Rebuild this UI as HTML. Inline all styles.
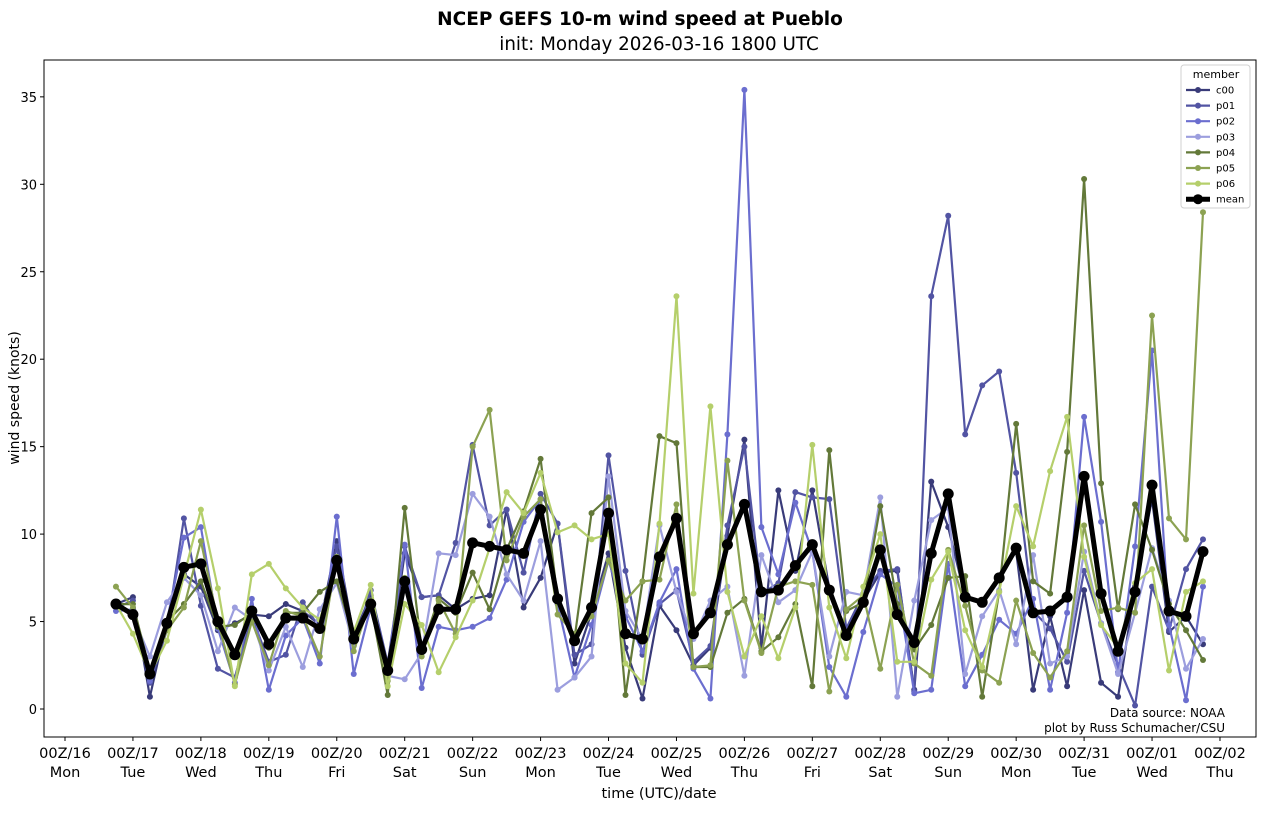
<!DOCTYPE html>
<html><head><meta charset="utf-8"><style>
body{margin:0;background:#fff;font-family:"Liberation Sans","DejaVu Sans",sans-serif;}
svg text{font-family:"DejaVu Sans","Liberation Sans",sans-serif;}
</style></head><body>
<svg id="chart" width="1266" height="812" xmlns="http://www.w3.org/2000/svg">
<text x="640" y="25" text-anchor="middle" font-size="18.5" font-weight="bold">NCEP GEFS 10-m wind speed at Pueblo</text>
<text x="659" y="50" text-anchor="middle" font-size="18.3">init: Monday 2026-03-16 1800 UTC</text>
<rect x="44" y="60" width="1212" height="677" fill="none" stroke="#000" stroke-width="1"/>
<text transform="translate(19,398) rotate(-90)" text-anchor="middle" font-size="14">wind speed (knots)</text>
<text x="659" y="798" text-anchor="middle" font-size="14.5">time (UTC)/date</text>
<text x="1225" y="717" text-anchor="end" font-size="12">Data source: NOAA</text>
<text x="1225" y="732" text-anchor="end" font-size="12">plot by Russ Schumacher/CSU</text>
<g id="grid"></g><g id="series"></g><g id="legend"></g>
</svg>
<script>
const xTickLabels=["00Z/16","00Z/17","00Z/18","00Z/19","00Z/20","00Z/21","00Z/22","00Z/23","00Z/24","00Z/25","00Z/26","00Z/27","00Z/28","00Z/29","00Z/30","00Z/31","00Z/01","00Z/02"];
const dayLabels=["Mon","Tue","Wed","Thu","Fri","Sat","Sun","Mon","Tue","Wed","Thu","Fri","Sat","Sun","Mon","Tue","Wed","Thu"];
const yTicks=[0,5,10,15,20,25,30,35];
const memberNames=["c00","p01","p02","p03","p04","p05","p06","mean"];
const c00=[6.0,6.4,0.7,5.0,7.7,7.0,4.5,4.9,5.4,5.3,6.0,5.6,4.8,9.6,4.2,6.5,2.0,8.9,6.4,6.5,5.7,6.3,6.5,11.4,5.8,7.5,10.6,2.6,5.5,8.9,3.5,0.6,5.9,4.5,2.5,3.5,9.9,15.4,3.5,12.5,7.9,12.5,6.9,4.5,6.2,7.8,7.9,1.1,13.0,10.4,6.4,6.0,7.6,9.0,1.1,5.3,1.3,6.8,1.5,0.7,7.0,12.0,4.4,5.3,3.7];
const p01=[5.8,6.2,1.5,4.5,10.9,5.9,2.3,1.8,5.3,2.7,3.1,6.1,4.6,9.3,3.6,6.8,2.6,9.3,6.4,6.5,9.5,15.1,10.5,11.4,7.8,12.3,10.6,3.1,3.7,14.5,7.9,3.1,6.0,6.8,2.7,3.6,10.5,15.0,6.6,7.2,12.4,12.1,12.0,4.6,6.6,7.9,8.0,1.0,23.6,28.2,15.7,18.5,19.3,13.5,5.6,4.6,2.7,7.9,4.9,2.5,0.2,7.0,4.5,8.0,9.7];
const p02=[5.6,5.7,1.6,5.0,9.8,10.4,4.6,1.5,6.3,1.1,4.2,5.2,2.6,11.0,2.0,5.8,2.4,9.4,1.2,4.7,4.5,4.7,5.2,7.4,10.7,12.0,6.0,1.8,4.8,8.5,5.3,3.3,6.1,8.0,2.3,0.6,15.7,35.4,10.4,7.7,11.8,9.0,2.4,0.7,4.4,7.7,7.0,0.9,1.1,8.3,1.3,3.1,5.1,4.3,6.3,1.1,5.5,16.7,10.7,2.1,9.3,20.5,4.8,0.5,7.0];
const p03=[6.0,5.3,3.0,6.1,7.5,6.5,3.3,5.8,5.1,2.2,4.7,2.4,5.7,7.2,3.6,6.1,1.9,1.7,3.2,8.9,8.8,12.3,11.0,7.7,6.2,9.6,1.1,1.8,3.0,13.3,5.6,4.0,10.5,6.7,4.0,6.2,7.0,1.9,8.8,6.1,6.8,9.0,3.0,6.7,6.5,12.1,0.7,6.2,10.8,11.5,2.0,5.3,6.8,3.7,8.8,2.6,3.0,9.0,4.9,2.0,5.5,9.2,6.2,2.3,4.0];
const p04=[6.0,6.0,2.2,5.0,6.0,7.3,4.7,4.8,5.5,3.5,5.5,5.5,6.7,7.3,4.1,6.0,0.8,11.5,3.4,6.3,5.5,7.8,5.7,9.1,11.3,14.3,6.3,4.0,11.2,12.1,0.8,7.3,15.6,15.2,2.4,2.4,5.5,6.3,3.3,4.1,6.0,1.3,14.8,5.6,6.1,11.6,6.0,3.4,4.8,7.5,7.6,0.7,6.7,16.3,7.3,6.6,14.7,30.3,12.9,5.7,11.7,9.1,6.0,4.5,2.8];
const p05=[7.0,5.8,2.0,4.5,5.8,9.6,5.0,1.4,5.0,2.5,5.6,5.3,3.0,8.7,3.3,6.2,1.6,7.5,3.0,6.2,4.3,15.0,17.1,8.5,11.0,12.0,5.4,4.3,5.3,8.5,6.2,7.3,7.4,11.7,2.4,2.5,14.2,6.2,3.2,7.0,7.3,7.1,1.0,5.7,6.5,2.3,7.1,2.6,1.9,9.1,5.9,2.2,1.5,6.2,3.2,1.8,3.3,10.5,5.6,5.8,5.5,22.5,10.9,9.7,28.4];
const p06=[6.0,4.3,2.0,3.9,7.6,11.4,6.9,1.3,7.7,8.3,6.9,5.8,5.1,8.4,4.4,7.1,1.3,6.0,4.8,2.1,4.1,6.2,9.2,12.4,11.2,13.5,10.1,10.5,9.7,10.0,2.6,1.5,10.6,23.6,6.6,17.3,6.7,3.0,5.3,2.9,5.8,15.1,5.8,2.9,7.0,10.0,2.7,2.7,7.4,9.0,4.5,2.4,6.7,11.6,9.3,13.6,16.7,8.7,4.8,3.5,7.2,8.0,2.2,6.7,7.3];
const mean=[6.0,5.4,2.0,4.9,8.1,8.3,5.0,3.1,5.6,3.7,5.2,5.2,4.6,8.5,4.0,6.0,2.2,7.3,3.4,5.7,5.7,9.5,9.3,9.1,8.9,11.4,6.3,3.9,5.8,11.2,4.3,4.0,8.7,10.9,4.3,5.5,9.4,11.7,6.7,6.8,8.2,9.4,6.8,4.2,6.1,9.1,5.4,3.8,8.9,12.3,6.4,6.1,7.5,9.2,5.5,5.6,6.4,13.3,6.6,3.3,6.7,12.8,5.6,5.3,9.0];

const NS="http://www.w3.org/2000/svg";
const X0=65,DAY=67.94,Y0=709,YU=17.49;
const START_H=18;
function xDay(d){return X0+d*DAY;}
function xIdx(i){return xDay((START_H+6*i)/24);}
function yV(v){return Y0-v*YU;}
function mk(tag,attrs,parent){const e=document.createElementNS(NS,tag);for(const k in attrs)e.setAttribute(k,attrs[k]);parent.appendChild(e);return e;}
const grid=document.getElementById('grid');
yTicks.forEach(t=>{
  const g=mk('g',{},grid);
  
  
  mk('line',{x1:40,x2:44,y1:yV(t),y2:yV(t),stroke:'#000'},g);
  const tx=mk('text',{x:37,y:yV(t)+5,'text-anchor':'end','font-size':13,'font-family':'Liberation Sans, sans-serif'},g);tx.textContent=t;
});
xTickLabels.forEach((lab,i)=>{
  const g=mk('g',{},grid);
  
  
  const x=xDay(i);
  mk('line',{x1:x,x2:x,y1:737,y2:741,stroke:'#000'},g);
  const t1=mk('text',{x:x,y:758,'text-anchor':'middle','font-size':14.5},g);t1.textContent=lab;
  const t2=mk('text',{x:x,y:777,'text-anchor':'middle','font-size':14.5},g);t2.textContent=dayLabels[i];
});
const data=[c00,p01,p02,p03,p04,p05,p06,mean];
const colors=["#393b79","#5254a3","#6b6ecf","#9c9ede","#637939","#8ca252","#b5cf6b","#000000"];
const ser=document.getElementById('series');
data.forEach((arr,s)=>{
  const g=mk('g',{},ser);
  
  
  const isMean=s===7;
  const pts=arr.map((v,i)=>xIdx(i).toFixed(1)+','+yV(v).toFixed(1)).join(' ');
  mk('polyline',{points:pts,fill:'none',stroke:colors[s],'stroke-width':isMean?5:2.2,'stroke-linejoin':'round'},g);
  arr.forEach((v,i)=>{
    const c=mk('circle',{cx:xIdx(i),cy:yV(v),r:isMean?5.5:3,fill:colors[s]},g);
    
    
  });
});
const lg=document.getElementById('legend');
const box=mk('rect',{x:1181,y:65,width:69,height:143,fill:'#fff',stroke:'#ccc',rx:3,opacity:0.9},lg);


const lt=mk('text',{x:1216,y:78,'text-anchor':'middle','font-size':11},lg);lt.textContent='member';
memberNames.forEach((n,i)=>{
  const g=mk('g',{},lg);
  
  
  const y=90+i*15.6;const isMean=i===7;
  mk('line',{x1:1186,x2:1210,y1:y,y2:y,stroke:colors[i],'stroke-width':isMean?5:2.2},g);
  mk('circle',{cx:1198,cy:y,r:isMean?5:3,fill:colors[i]},g);
  const t=mk('text',{x:1216,y:y+3.5,'font-size':10},g);t.textContent=n;
});
</script>
</body></html>
